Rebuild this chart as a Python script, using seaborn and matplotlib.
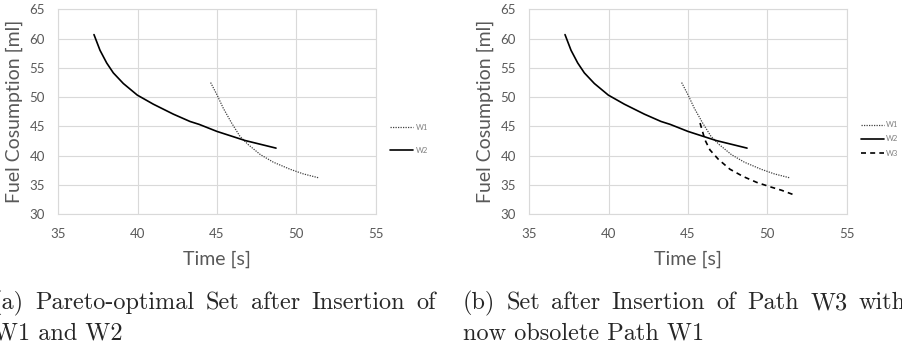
import matplotlib
matplotlib.use("Agg")
import matplotlib.pyplot as plt
import seaborn as sns

# ---------- Data ----------
w1_time = [44.6, 45.0, 45.4, 45.92, 46.45, 46.97, 47.73, 48.55, 49.6, 50.44, 51.45]
w1_fuel = [52.49, 50.4, 48.1, 45.6, 43.3, 41.9, 40.2, 38.9, 37.7, 36.9, 36.2]

w2_time = [37.25, 37.63, 38.05, 38.47, 39.10, 39.98, 40.99, 42.25, 43.30, 43.88, 45.00, 46.77, 48.72]
w2_fuel = [60.68, 58.0, 55.84, 54.14, 52.33, 50.35, 48.8, 47.1, 45.85, 45.35, 44.15, 42.6, 41.3]

w3_time = [45.76, 46.07, 46.38, 46.91, 47.64, 48.48, 49.33, 50.17, 50.9, 51.6]
w3_fuel = [45.58, 42.7, 41.0, 39.4, 37.7, 36.45, 35.45, 34.7, 34.1, 33.4]

x_ticks = [35, 40, 45, 50, 55]
y_ticks = [30, 35, 40, 45, 50, 55, 60, 65]

captions = [
    ["(a) Pareto-optimal Set after Insertion of", "W1 and W2"],
    ["(b) Set after Insertion of Path W3 with", "now obsolete Path W1"],
]

sns.set_theme(style="whitegrid")
plt.rcParams["font.family"] = ["Lato", "DejaVu Sans"]

grey_txt = "#595959"
grid_col = "#d9d9d9"
W, H = 902, 347

fig = plt.figure(figsize=(9.02, 3.47), dpi=100)
ax_a = fig.add_axes([0.0646, 0.3824, 0.3519, 0.5908])
ax_b = fig.add_axes([0.5868, 0.3824, 0.3519, 0.5908])


def draw_w1(ax):
    sns.lineplot(x=w1_time, y=w1_fuel, ax=ax, color="#404040", lw=0.9,
                 linestyle=(0, (1, 1)), label="W1", sort=False, estimator=None)


def draw_w2(ax):
    sns.lineplot(x=w2_time, y=w2_fuel, ax=ax, color="black", lw=1.2,
                 label="W2", sort=False, estimator=None)


def draw_w3(ax):
    sns.lineplot(x=w3_time, y=w3_fuel, ax=ax, color="black", lw=1.2,
                 linestyle=(0, (3, 2.5)), label="W3", sort=False, estimator=None)


def style_axes(ax):
    ax.set_xlim(35, 55)
    ax.set_ylim(30, 65)
    ax.set_xticks(x_ticks)
    ax.set_yticks(y_ticks)
    ax.grid(True, color=grid_col, lw=0.8)
    for sp in ax.spines.values():
        sp.set_color(grid_col)
        sp.set_linewidth(0.8)
    ax.tick_params(length=0, pad=9.5, labelsize=9.5, labelcolor=grey_txt)
    ax.set_xlabel("Time [s]", fontsize=14, color=grey_txt)
    ax.set_ylabel("Fuel Cosumption [ml]", fontsize=14, color=grey_txt)
    ax.xaxis.set_label_coords(0.5, -0.175)
    ax.yaxis.set_label_coords(-0.11, 0.5)


draw_w1(ax_a)
draw_w2(ax_a)
draw_w1(ax_b)
draw_w2(ax_b)
draw_w3(ax_b)

for ax, x0, spacing in [(ax_a, 390, 2.1), (ax_b, 860.7, 0.95)]:
    style_axes(ax)
    leg = ax.legend(loc="center left", bbox_to_anchor=(x0 / W, 1 - 139 / H),
                    bbox_transform=fig.transFigure, frameon=False, fontsize=5.5,
                    borderpad=0, borderaxespad=0, handlelength=3.0,
                    handletextpad=0.35, labelspacing=spacing)
    for t in leg.get_texts():
        t.set_color("#7f7f7f")

# ---------- Captions (first line justified like the paper) ----------
renderer = fig.canvas.get_renderer()
cap_kw = dict(family="cmr10", fontsize=17.5, ha="left", va="baseline")
line_width = 443

for (line1, line2), x_px in zip(captions, [-7.3, 462.7]):
    words = [fig.text(0, 1 - 309.3 / H, w, **cap_kw) for w in line1.split()]
    widths = [t.get_window_extent(renderer).width for t in words]
    gap = (line_width - sum(widths)) / (len(words) - 1)
    x = x_px
    for t, wd in zip(words, widths):
        t.set_x(x / W)
        x += wd + gap
    fig.text(x_px / W, 1 - 340 / H, line2, **cap_kw)

fig.savefig("out.png", dpi=100)
